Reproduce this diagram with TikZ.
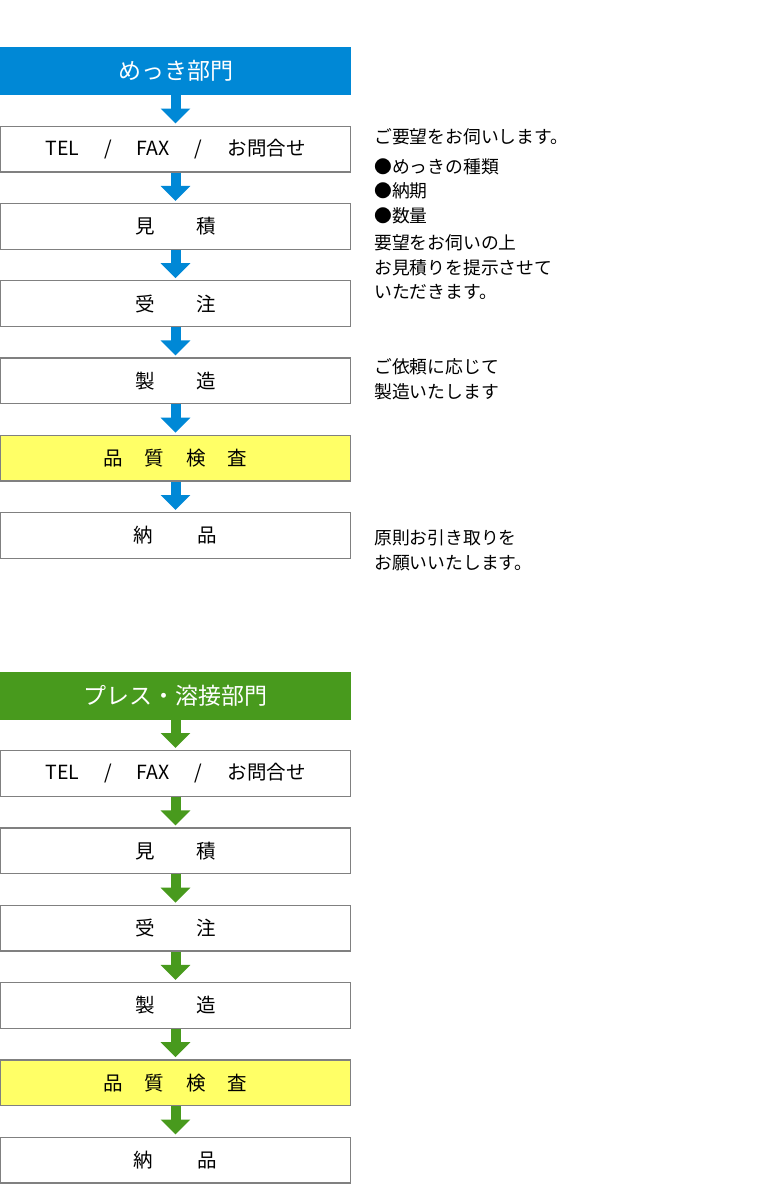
\documentclass[tikz,border=0pt]{standalone}
\usepackage{fontspec}
\setmainfont{Noto Sans CJK JP}
\usetikzlibrary{positioning,chains,arrows.meta}
\definecolor{mekkiblue}{RGB}{0,136,214}
\definecolor{pressgreen}{RGB}{72,154,29}
\definecolor{checkyellow}{RGB}{255,255,102}
\definecolor{boxgray}{RGB}{128,128,128}
\tikzset{
	flowbox/.style={
		rectangle,
		draw=boxgray, line width=1.3pt,
		fill=white,
		minimum width=349.7pt,
		minimum height=45.7pt,
		inner sep=0pt,
		font=\fontsize{19.5}{23}\selectfont,
		text centered,
		on chain},
	headbox/.style={
		rectangle,
		minimum width=351pt,
		minimum height=48pt,
		inner sep=0pt,
		text=white,
		font=\fontsize{23}{28}\selectfont,
		on chain},
	checkbox/.style={flowbox, fill=checkyellow},
	flowarrow/.style={-{Triangle[width=29pt,length=15pt]}, line width=10pt, shorten >=2pt},
	note/.style={anchor=north west, inner sep=0pt, align=left,
		font=\fontsize{17.8}{24.5}\selectfont},
}
\newcommand{\tel}{TEL\hspace{25pt}/\hspace{25pt}FAX\hspace{25pt}/\hspace{25pt}お問合せ}

\begin{document}
\begin{tikzpicture}[node distance=30.3pt]
	\useasboundingbox (0,0) rectangle (784pt,-1187pt);
	% めっき部門
	\begin{scope}[start chain=mekki going below,
		every join/.style={flowarrow, draw=mekkiblue}]
	\node[headbox, fill=mekkiblue] (mhead) at (175.5pt,-71pt) {めっき部門};
	\node[flowbox, join] (mtel) {\tel};
	\node[flowbox, join] (mest) {見\hspace{42pt}積};
	\node[flowbox, join] (mord) {受\hspace{42pt}注};
	\node[flowbox, join] (mmake) {製\hspace{42pt}造};
	\node[checkbox, join] (mcheck) {品\hspace{22pt}質\hspace{22pt}検\hspace{22pt}査};
	\node[flowbox, join] (mdeliv) {納\hspace{45pt}品};
	\end{scope}
	\node[note] (mreq) at ([xshift=23pt,yshift=-3pt]mtel.north east)
		{ご要望をお伺いします。\\[5pt]●めっきの種類\\●納期\\●数量\\[3pt]要望をお伺いの上\\お見積りを提示させて\\いただきます。};
	\node[note] (mmakenote) at ([xshift=23pt,yshift=-1pt]mmake.north east)
		{ご依頼に応じて\\製造いたします};
	\node[note] (mdelivnote) at ([xshift=23pt,yshift=-18pt]mdeliv.north east)
		{原則お引き取りを\\お願いいたします。};
	% プレス・溶接部門
	\begin{scope}[start chain=press going below,
		every join/.style={flowarrow, draw=pressgreen}]
	\node[headbox, fill=pressgreen] (phead) at (175.5pt,-695.5pt) {プレス・溶接部門};
	\node[flowbox, join] (ptel) {\tel};
	\node[flowbox, join] (pest) {見\hspace{42pt}積};
	\node[flowbox, join] (pord) {受\hspace{42pt}注};
	\node[flowbox, join] (pmake) {製\hspace{42pt}造};
	\node[checkbox, join] (pcheck) {品\hspace{22pt}質\hspace{22pt}検\hspace{22pt}査};
	\node[flowbox, join] (pdeliv) {納\hspace{45pt}品};
	\end{scope}
\end{tikzpicture}
\end{document}
